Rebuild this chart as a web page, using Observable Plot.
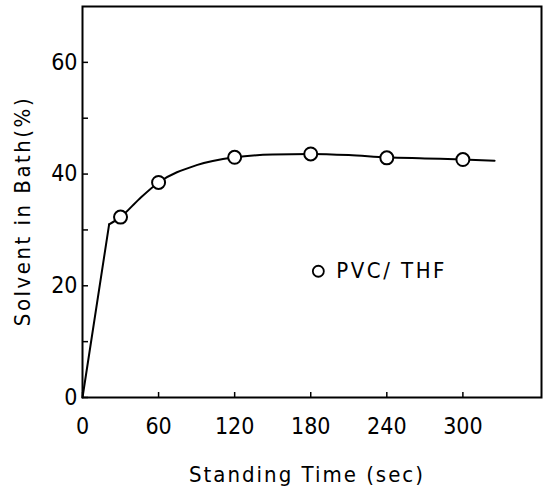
<!DOCTYPE html>
<html>
<head>
<meta charset="utf-8">
<script src="https://cdn.jsdelivr.net/npm/d3@7"></script>
<script src="https://cdn.jsdelivr.net/npm/@observablehq/plot@0.6"></script>
<style>
  html, body { margin: 0; padding: 0; background: #fff; }
  #chart svg { display: block; }
</style>
</head>
<body>
<div id="chart"></div>
<script>
// Measured points (PVC/THF)
const pointTime = [30, 60, 120, 180, 240, 300];
const pointSolvent = [32.3, 38.5, 43.0, 43.6, 42.9, 42.6];
// Initial straight rise
const riseTime = [0, 21];
const riseSolvent = [0, 31.0];
// Fitted curve
const curveTime = [21, 30, 45, 60, 90, 120, 150, 180, 210, 240, 270, 300, 325];
const curveSolvent = [31.0, 32.3, 35.6, 38.5, 41.6, 43.0, 43.5, 43.6, 43.4, 43.0, 42.8, 42.6, 42.4];
// Axis ticks
const xTicks = [0, 60, 120, 180, 240, 300];
const yTicks = [0, 20, 40, 60];
const yMinorTicks = [10, 30, 50];
const legendLabel = ["PVC/ THF"];
const legendPos = { t: 186, s: 22.6 };

const points = pointTime.map((t, i) => ({ t, s: pointSolvent[i] }));
const rise = riseTime.map((t, i) => ({ t, s: riseSolvent[i] }));
const curve = curveTime.map((t, i) => ({ t, s: curveSolvent[i] }));

const font = "'DejaVu Sans Condensed', 'Liberation Sans Narrow', 'DejaVu Sans', sans-serif";

const chart = Plot.plot({
  width: 544,
  height: 492,
  marginLeft: 82,
  marginRight: 3,
  marginTop: 6,
  marginBottom: 95,
  style: { fontFamily: font, fontSize: "22px", color: "#000", background: "#fff" },
  x: { domain: [0, 362] },
  y: { domain: [0, 70] },
  marks: [
    Plot.frame({ stroke: "#000", strokeWidth: 2 }),
    // inward ticks
    Plot.axisX(xTicks, { anchor: "top", frameAnchor: "bottom", tickSize: 6, text: null, label: null, strokeWidth: 1.5 }),
    Plot.axisY(yTicks.concat(yMinorTicks), { anchor: "right", frameAnchor: "left", tickSize: 5, text: null, label: null, strokeWidth: 1.5 }),
    // tick labels
    Plot.axisX(xTicks, { anchor: "bottom", tickSize: 0, tickPadding: 20, label: null, fontSize: 23 }),
    Plot.axisY(yTicks, { anchor: "left", tickSize: 0, tickPadding: 5, label: null, fontSize: 23 }),
    Plot.line(rise, { x: "t", y: "s", stroke: "#000", strokeWidth: 2 }),
    Plot.line(curve, { x: "t", y: "s", curve: "monotone-x", stroke: "#000", strokeWidth: 2 }),
    Plot.dot(points, { x: "t", y: "s", r: 6.5, stroke: "#000", strokeWidth: 2, fill: "#fff" }),
    Plot.dot([legendPos], { x: "t", y: "s", r: 5.5, stroke: "#000", strokeWidth: 1.8, fill: "#fff" }),
    Plot.text(legendLabel, { x: () => legendPos.t, y: () => legendPos.s, dx: 18, textAnchor: "start", fontSize: 22, fill: "#000" })
  ]
});

const svg = d3.select(chart);
svg.selectAll("text").filter(function () { return this.textContent === legendLabel[0]; })
  .attr("letter-spacing", "2.5px");
// axis titles
svg.append("text")
  .attr("transform", "translate(30,211) rotate(-90)")
  .attr("text-anchor", "middle")
  .attr("font-family", font)
  .attr("font-size", 22)
  .attr("letter-spacing", "2.5px")
  .attr("fill", "#000")
  .text("Solvent in Bath(%)");
svg.append("text")
  .attr("x", 307)
  .attr("y", 482)
  .attr("text-anchor", "middle")
  .attr("font-family", font)
  .attr("font-size", 22)
  .attr("letter-spacing", "2px")
  .attr("fill", "#000")
  .text("Standing Time (sec)");

document.getElementById("chart").append(chart);
</script>
</body>
</html>
